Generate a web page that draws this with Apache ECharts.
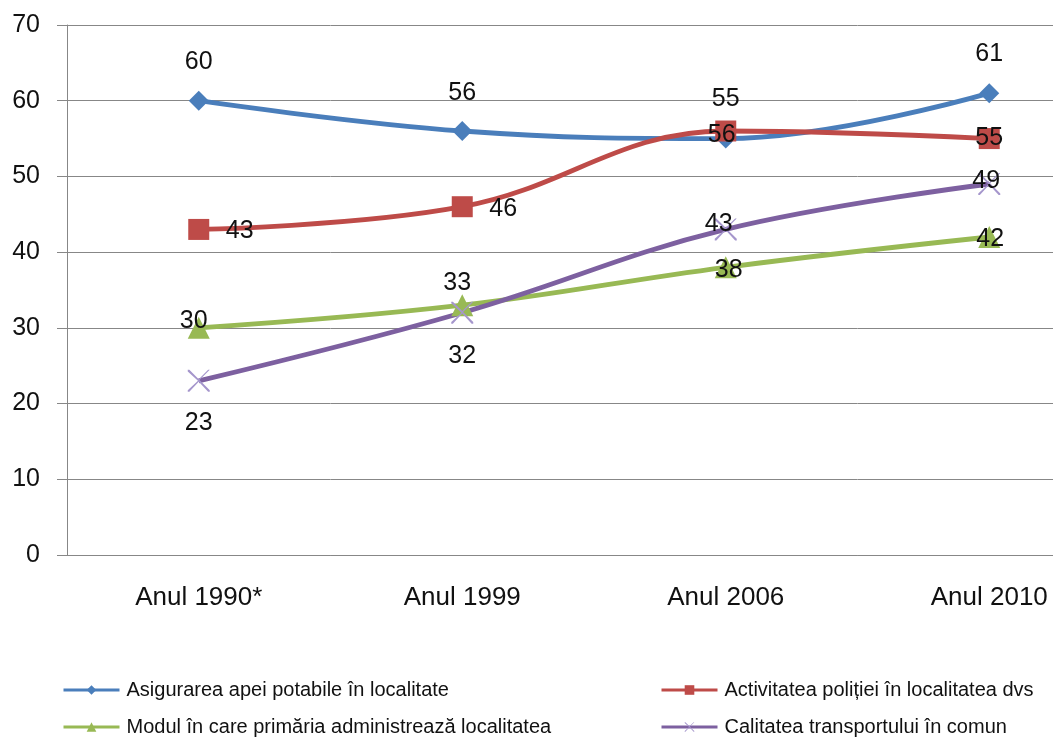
<!DOCTYPE html>
<html>
<head>
<meta charset="utf-8">
<script src="https://cdn.jsdelivr.net/npm/echarts@6/dist/echarts.min.js"></script>
<style>
html,body{margin:0;padding:0;background:#fff;overflow:hidden;width:1053px;height:738px;}
#chart{width:1121px;height:738px;}
</style>
</head>
<body>
<div id="chart"></div>
<script>
const categories = ['Anul 1990*', 'Anul 1999', 'Anul 2006', 'Anul 2010'];
const seriesNames = [
  'Asigurarea apei potabile în localitate',
  'Activitatea poliției în localitatea dvs',
  'Modul în care primăria administrează localitatea',
  'Calitatea transportului în comun'
];
const apa = [60, 56, 55, 61];
const politie = [43, 46, 56, 55];
const primarie = [30, 33, 38, 42];
const transport = [23, 32, 43, 49];
const yTicks = [0, 10, 20, 30, 40, 50, 60, 70];

// label placement (layout only)
const offApa = [[0,-39],[0,-38],[0,-39],[0,-39]];
const offPolitie = [[41,2],[41,2],[-4,4],[0,0]];
const offPrimarie = [[-5,-7],[-5,-22],[3,3],[1,2]];
const offTransport = [[0,42],[0,43],[-7,-5],[-3,-3]];

const FONT = '"Liberation Sans", Arial, sans-serif';
const xPath = 'path://M0,0 L1.6,0 L11,9.4 L20.4,0 L22,0 L11.8,10.2 L22,20.4 L22,22 L20.4,22 L11,11.8 L1.6,22 L0,22 L0,20.4 L10.2,11 L0,1.6 Z';

function mk(vals, offs) {
  return vals.map((v, i) => ({
    value: v,
    label: { position: 'inside', offset: offs[i] }
  }));
}

const labelStyle = { show: true, color: '#111', fontSize: 25, fontFamily: FONT };

function series(name, vals, offs, color, symbol, size, symColor) {
  return {
    name: name, type: 'line', smooth: 0.4,
    data: mk(vals, offs),
    symbol: symbol, symbolSize: size,
    lineStyle: { color: color, width: 4.8 },
    itemStyle: { color: symColor || color },
    label: labelStyle,
    z: 3
  };
}

function legendItem(name, left, top) {
  return {
    data: [name], orient: 'horizontal', left: left, top: top,
    itemWidth: 56, itemHeight: 12, padding: 0,
    lineStyle: { width: 3 },
    textStyle: { color: '#111', fontSize: 20, lineHeight: 20, fontFamily: FONT, padding: [0,0,0,2] }
  };
}

const chart = echarts.init(document.getElementById('chart'), null, { renderer: 'canvas' });
chart.setOption({
  animation: false,
  backgroundColor: '#ffffff',
  grid: { left: 67, right: 0, top: 25, bottom: 183, containLabel: false },
  xAxis: {
    type: 'category', data: categories, boundaryGap: true,
    axisLine: { lineStyle: { color: '#878787', width: 1 } },
    axisTick: { alignWithLabel: true, length: 5, lineStyle: { color: '#878787' } },
    axisLabel: { color: '#111', fontSize: 26, fontFamily: FONT, margin: 30, interval: 0 }
  },
  yAxis: {
    type: 'value', min: yTicks[0], max: yTicks[yTicks.length - 1], interval: 10,
    axisLine: { show: true, lineStyle: { color: '#878787', width: 1 } },
    axisTick: { show: true, length: 10, lineStyle: { color: '#878787' } },
    axisLabel: { color: '#111', fontSize: 25, fontFamily: FONT, margin: 27 },
    splitLine: { lineStyle: { color: '#878787', width: 1 } }
  },
  legend: [
    legendItem(seriesNames[0], 62, 680),
    legendItem(seriesNames[2], 62, 717),
    legendItem(seriesNames[1], 660, 680),
    legendItem(seriesNames[3], 660, 717)
  ],
  series: [
    series(seriesNames[0], apa, offApa, '#4a7ebb', 'diamond', 20),
    series(seriesNames[1], politie, offPolitie, '#be4b48', 'rect', 21),
    series(seriesNames[2], primarie, offPrimarie, '#98b954', 'triangle', 22),
    series(seriesNames[3], transport, offTransport, '#7d60a0', xPath, 22, '#a596cc')
  ]
});
</script>
</body>
</html>
